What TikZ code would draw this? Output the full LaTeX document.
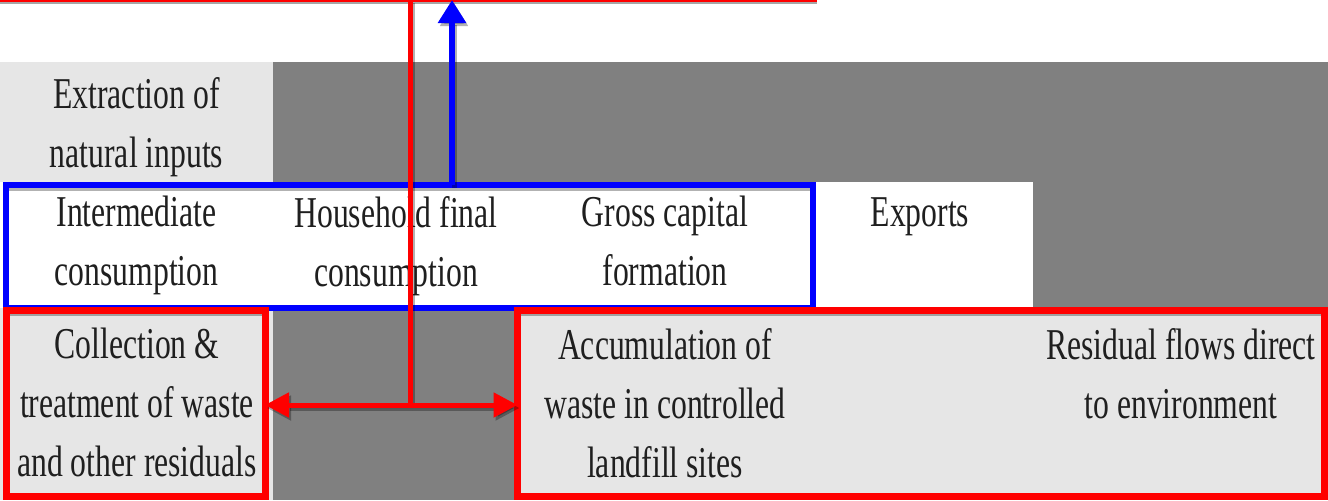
\documentclass[tikz,border=0pt]{standalone}
\usepackage{fontspec}
\newfontfamily\cellfont[FakeStretch=0.72]{Liberation Serif}
\usetikzlibrary{arrows.meta,fit}
\definecolor{cellgrey}{HTML}{E6E6E6}
\definecolor{darkcell}{HTML}{808080}
\begin{document}
\begin{tikzpicture}[x=0.5pt,y=-0.5pt,
  cell/.style={rectangle, draw=none, inner sep=0pt, outer sep=0pt, anchor=north west},
  celltext/.style={anchor=north, inner sep=0pt, align=center,
    font=\cellfont\fontsize{22}{29.5}\selectfont, text=black!88},
  bluebox/.style={rectangle, draw=blue, line width=3pt, inner sep=0pt, outer sep=0pt},
  redbox/.style={rectangle, draw=red, line width=3.5pt, inner sep=0pt, outer sep=0pt},
  boxshade/.style={draw=black, opacity=0.3, line width=3pt},
  redflow/.style={draw=red, line width=2.5pt},
  blueflow/.style={draw=blue, line width=3pt},
  flowshade/.style={draw=black, fill=black, opacity=0.3, line width=2.5pt,
    transform canvas={xshift=1pt, yshift=-1.5pt}},
  redtip/.style={-{Triangle[length=12pt,width=12pt]}},
  bluetip/.style={-{Triangle[length=11.5pt,width=13.5pt]}},
]
% page frame
\fill[white] (0,0) rectangle (1328,500);
\useasboundingbox (0,0) rectangle (1328,500);

% table cells
\node[cell, fill=cellgrey, minimum width=136.5pt, minimum height=60pt] (c11) at (0,62) {};
\node[cell, fill=darkcell, minimum width=527.5pt, minimum height=60pt] (c12) at (273,62) {};
\node[cell, fill=darkcell, minimum width=147.5pt, minimum height=63pt] (c25) at (1033,182) {};
\node[cell, fill=cellgrey, minimum width=136.5pt, minimum height=96pt] (c31) at (0,308) {};
\node[cell, fill=darkcell, minimum width=121pt, minimum height=96pt] (c32) at (273,308) {};
\node[cell, fill=cellgrey, minimum width=406.5pt, minimum height=96pt] (c33) at (515,308) {};

% cell texts
\node[celltext] (t11) at (136.5,77) {Extraction of\\natural inputs};
\node[celltext] (t21) at (136.5,196) {Intermediate\\consumption};
\node[celltext] (t22) at (396,196) {Household final\\consumption};
\node[celltext] (t23) at (665,196) {Gross capital\\formation};
\node[celltext] (t24) at (920,197) {Exports};
\node[celltext] (t31) at (137,328) {Collection \&\\treatment of waste\\and other residuals};
\node[celltext] (t33) at (665,328) {Accumulation of\\waste in controlled\\landfill sites};
\node[celltext] (t35) at (1181,328) {Residual flows direct\\to environment};

% edge of the block above, cut by the frame
\coordinate (topL) at (0,1);
\coordinate (topR) at (817,1);
\draw[draw=black, opacity=0.35, line width=1pt] ([yshift=-1pt]topL) -- ([yshift=-1pt]topR);
\draw[red, line width=1pt] (topL) -- (topR);

% grouping boxes
\node[bluebox, fit={(5.5,185) (813,308)}] (uses) {};
\node[redbox, fit={(6,310) (265,496)}] (treat) {};
\node[redbox, fit={(517.5,310) (1324,496)}] (landfill) {};
\draw[boxshade] ([shift={(1pt,-1.5pt)}]uses.north west) -- ([shift={(1pt,-1.5pt)}]uses.north east);
\draw[boxshade] ([shift={(1pt,-1.5pt)}]treat.north west) -- ([shift={(1pt,-1.5pt)}]treat.north east);
\draw[boxshade] ([shift={(1pt,-1.5pt)}]landfill.north west) -- ([shift={(1pt,-1.5pt)}]landfill.north east);
\node[bluebox, fit={(5.5,185) (813,308)}] {};
\node[redbox, fit={(6,310) (265,496)}] {};
\node[redbox, fit={(517.5,310) (1324,496)}] {};

% flow connectors
\coordinate (redtop) at (410,0);
\coordinate (fork) at (410,405);
\coordinate (bluetop) at (452,0);
\coordinate (bluefoot) at (452,185);

% shadows
\draw[flowshade, bluetip] (bluefoot) -- (bluetop);
\draw[flowshade] (redtop) -- (fork);
\draw[flowshade, redtip] (fork) -- (fork -| treat.east);
\draw[flowshade, redtip] (fork) -- (fork -| landfill.west);

% arrows
\draw[blueflow, bluetip, fill=blue] (bluefoot) -- (bluetop);
\draw[redflow] (redtop) -- (fork);
\draw[redflow, redtip, fill=red] (fork) -- (fork -| treat.east);
\draw[redflow, redtip, fill=red] (fork) -- (fork -| landfill.west);
\end{tikzpicture}
\end{document}
